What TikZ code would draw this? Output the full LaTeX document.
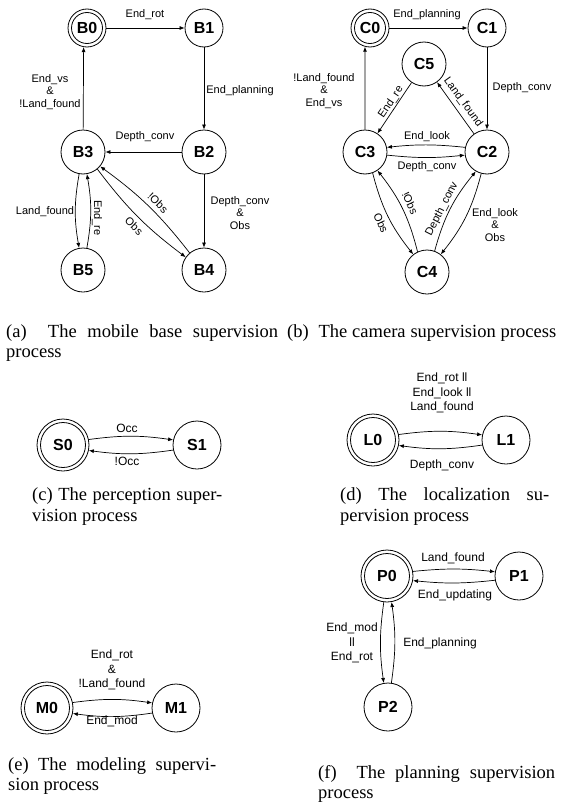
\documentclass[tikz,border=0pt]{standalone}
\usepackage{fontspec}
\setmainfont{Liberation Serif}
\newfontfamily\lab{Liberation Sans}
\usetikzlibrary{arrows.meta}
\tikzset{
 st/.style={circle, draw, line width=0.8pt, inner sep=0pt, font=\lab\bfseries\fontsize{16}{18}\selectfont},
 sa/.style={st, minimum size=38pt},
 sb/.style={st, minimum size=44pt},
 sc/.style={st, minimum size=48pt},
 sd/.style={st, minimum size=52pt},
 el/.style={font=\lab\fontsize{11}{12.5}\selectfont, align=center, inner sep=0pt},
 ell/.style={font=\lab\fontsize{12}{14.5}\selectfont, align=center, inner sep=0pt},
 tr/.style={-{Latex[length=5pt,width=4pt]}, line width=0.7pt},
 captxt/.style={anchor=base west, inner sep=0pt, font=\fontsize{18.5}{21}\selectfont},
}
\begin{document}
\begin{tikzpicture}[x=1pt,y=-1pt]
\useasboundingbox (0,0) rectangle (563,803);
% ---------- (a)
\node[sa] (B0) at (87,28) {B0};
\draw[line width=0.8pt] (B0.center) circle[radius=15.5pt];
\node[sa] (B1) at (204,28) {B1};
\node[sb] (B3) at (83,152) {B3};
\node[sb] (B2) at (204,152) {B2};
\node[sb] (B5) at (83,270) {B5};
\node[sb] (B4) at (204,270) {B4};
\draw[tr] (B0) -- (B1);
\draw[tr] (B1) -- (B2);
\draw[tr] (B2) -- (B3);
\draw[tr] (B3) -- (B0.-100);
\draw[tr] (B2) -- (B4);
\draw[tr] (B3.-100) to[bend right=10] (B5.100);
\draw[tr] (B5.80) to[bend right=10] (B3.-80);
\draw[tr] (B3.-50) to[bend right=8] (B4.145);
\draw[tr] (B4.130) to[bend right=8] (B3.-40);
\node[el] (la1) at (145,15) {End\_rot};
\node[el] (la2) at (240,91) {End\_planning};
\node[el] (la3) at (50,92) {End\_vs\\\&\\!Land\_found};
\node[el] (la4) at (145,137) {Depth\_conv};
\node[el] (la5) at (240,213) {Depth\_conv\\\&\\Obs};
\node[el] (la6) at (45,212) {Land\_found};
\node[el, rotate=-90] (la7) at (97,218) {End\_re};
\node[el, rotate=-44] (la8) at (158,203) {!Obs};
\node[el, rotate=-44] (la9) at (134,226) {Obs};
% ---------- (b)
\node[sa] (C0) at (370,28) {C0};
\draw[line width=0.8pt] (C0.center) circle[radius=15.5pt];
\node[sa] (C1) at (487,28) {C1};
\node[sb] (C5) at (424,64) {C5};
\node[sb] (C3) at (365,152) {C3};
\node[sb] (C2) at (487,152) {C2};
\node[sb] (C4) at (427,272) {C4};
\draw[tr] (C0) -- (C1);
\draw[tr] (C1) -- (C2);
\draw[tr] (C3) -- (C0.-105);
\draw[tr] (C5) -- (C3);
\draw[tr] (C2) -- (C5);
\draw[tr] (C2.168) to[bend right=6] (C3.12);
\draw[tr] (C3.-8) to[bend right=6] (C2.-172);
\draw[tr] (C3.-70) to[bend right=12] (C4.128);
\draw[tr] (C4.115) to[bend right=12] (C3.-56);
\draw[tr] (C2.-105) to[bend left=12] (C4.52);
\draw[tr] (C4.70) to[bend left=12] (C2.-120);
\node[el] (lb1) at (427,15) {End\_planning};
\node[el] (lb2) at (522,88) {Depth\_conv};
\node[el] (lb3) at (324,91) {!Land\_found\\\&\\End\_vs};
\node[el, rotate=56] (lb4) at (391,102) {End\_re};
\node[el, rotate=-54] (lb5) at (463,102) {Land\_found};
\node[el] (lb6) at (427,137) {End\_look};
\node[el] (lb7) at (427,167) {Depth\_conv};
\node[el, rotate=-65] (lb8) at (381,223) {Obs};
\node[el, rotate=-65] (lb9) at (410,203) {!Obs};
\node[el, rotate=63] (lb10) at (442,209) {Depth\_conv};
\node[el] (lb11) at (495,225) {End\_look\\\&\\Obs};
% ---------- captions a b
\node[captxt] (capa1) at (6,337) {\makebox[272pt][s]{(a)\ \ The mobile base supervision}};
\node[captxt] (capa2) at (6,357) {process};
\node[captxt] (capb1) at (287,337) {\makebox[269pt][s]{(b)\ \ The camera supervision process}};
% ---------- (c)
\node[sd] (S0) at (63,445) {S0};
\draw[line width=0.8pt] (S0.center) circle[radius=22.5pt];
\node[sc] (S1) at (197,445) {S1};
\draw[tr] (S0.12) to[bend left=8] (S1.168);
\draw[tr] (S1.-168) to[bend left=8] (S0.-12);
\node[ell] (lc1) at (127,428) {Occ};
\node[ell] (lc2) at (127,461) {!Occ};
\node[captxt] (capc1) at (32,500) {\makebox[190pt][s]{(c)\ The perception super-}};
\node[captxt] (capc2) at (32,521) {vision process};
% ---------- (d)
\node[sd] (L0) at (373,440) {L0};
\draw[line width=0.8pt] (L0.center) circle[radius=22.5pt];
\node[sc] (L1) at (506,440) {L1};
\draw[tr] (L0.12) to[bend left=8] (L1.168);
\draw[tr] (L1.-168) to[bend left=8] (L0.-12);
\node[ell] (ld1) at (442,393) {End\_rot ll\\End\_look ll\\Land\_found};
\node[ell] (ld2) at (442,465) {Depth\_conv};
\node[captxt] (capd1) at (340,500) {\makebox[209pt][s]{(d)\ The localization su-}};
\node[captxt] (capd2) at (340,521) {pervision process};
% ---------- (e)
\node[sd] (M0) at (47,708) {M0};
\draw[line width=0.8pt] (M0.center) circle[radius=22.5pt];
\node[sc] (M1) at (176,708) {M1};
\draw[tr] (M0.12) to[bend left=8] (M1.168);
\draw[tr] (M1.-168) to[bend left=8] (M0.-12);
\node[ell] (le1) at (112,670) {End\_rot\\\&\\!Land\_found};
\node[ell] (le2) at (112,721) {End\_mod};
\node[captxt] (cape1) at (8,770) {\makebox[208pt][s]{(e)\ The modeling supervi-}};
\node[captxt] (cape2) at (8,790) {sion process};
% ---------- (f)
\node[sd] (P0) at (387,576) {P0};
\draw[line width=0.8pt] (P0.center) circle[radius=22.5pt];
\node[sc] (P1) at (519,576) {P1};
\node[sc] (P2) at (388,707) {P2};
\draw[tr] (P0.10) to[bend left=6] (P1.170);
\draw[tr] (P1.-170) to[bend left=6] (P0.-10);
\draw[tr] (P0.-97) to[bend right=8] (P2.100);
\draw[tr] (P2.82) to[bend right=8] (P0.-80);
\node[ell] (lf1) at (453,558) {Land\_found};
\node[ell] (lf2) at (455,595) {End\_updating};
\node[ell] (lf3) at (352,643) {End\_mod\\ll\\End\_rot};
\node[ell] (lf4) at (440,643) {End\_planning};
\node[captxt] (capf1) at (318,778) {\makebox[237pt][s]{(f)\ \ The planning supervision}};
\node[captxt] (capf2) at (318,798) {process};
\end{tikzpicture}
\end{document}
